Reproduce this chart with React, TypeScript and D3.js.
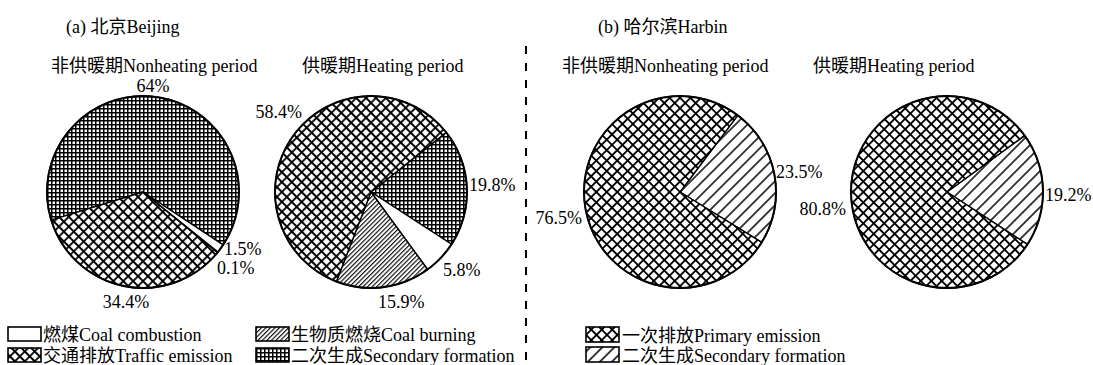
import React from "react";
import * as d3 from "d3";

// ---- data ----
// Beijing slices, clockwise: secondary, coal, biomass, traffic
const beijingKeys = ["secondary", "coal", "biomass", "traffic"];
const beijingNonheating = [64, 1.5, 0.1, 34.4];
const beijingHeating = [19.8, 5.8, 15.9, 58.4];
// Harbin slices, clockwise: secondary, primary
const harbinKeys = ["secondary2", "primary"];
const harbinNonheating = [23.5, 76.5];
const harbinHeating = [19.2, 80.8];

const beijingLegend = [
  { key: "coal", label: "燃煤Coal combustion" },
  { key: "biomass", label: "生物质燃烧Coal burning" },
  { key: "traffic", label: "交通排放Traffic emission" },
  { key: "secondary", label: "二次生成Secondary formation" },
];
const harbinLegend = [
  { key: "primary", label: "一次排放Primary emission" },
  { key: "secondary2", label: "二次生成Secondary formation" },
];

const panelTitles = ["(a) 北京Beijing", "(b) 哈尔滨Harbin"];
const periodTitles = ["非供暖期Nonheating period", "供暖期Heating period"];

// ---- layout ----
const W = 1093;
const H = 365;
const R = 96;
const CY = 192;
const FONT = "'Liberation Serif', 'Times New Roman', 'Noto Sans CJK SC', serif";

const fills: Record<string, string> = {
  coal: "#fff",
  biomass: "url(#pBiomass)",
  traffic: "url(#pCross)",
  secondary: "url(#pGrid)",
  primary: "url(#pCrossH)",
  secondary2: "url(#pDiag)",
};

type LabelPos = { dx: number; dy: number; anchor: string };

const pies = [
  {
    cx: 143,
    startDeg: -107,
    keys: beijingKeys,
    values: beijingNonheating,
    title: { x: 51, text: periodTitles[0] },
    labels: [
      { dx: 10, dy: -100, anchor: "middle" },
      { dx: 81, dy: 63, anchor: "start" },
      { dx: 74, dy: 82, anchor: "start" },
      { dx: -17, dy: 116, anchor: "middle" },
    ] as LabelPos[],
  },
  {
    cx: 371,
    startDeg: 51.6,
    keys: beijingKeys,
    values: beijingHeating,
    title: { x: 302, text: periodTitles[1] },
    labels: [
      { dx: 98, dy: -1, anchor: "start" },
      { dx: 72, dy: 84, anchor: "start" },
      { dx: 7, dy: 116, anchor: "start" },
      { dx: -69, dy: -74, anchor: "end" },
    ] as LabelPos[],
  },
  {
    cx: 680,
    startDeg: 37,
    keys: harbinKeys,
    values: harbinNonheating,
    title: { x: 562, text: periodTitles[0] },
    labels: [
      { dx: 96, dy: -14, anchor: "start" },
      { dx: -98, dy: 32, anchor: "end" },
    ] as LabelPos[],
  },
  {
    cx: 947,
    startDeg: 54,
    keys: harbinKeys,
    values: harbinHeating,
    title: { x: 813, text: periodTitles[1] },
    labels: [
      { dx: 98, dy: 9, anchor: "start" },
      { dx: -101, dy: 23, anchor: "end" },
    ] as LabelPos[],
  },
];

const rad = (d: number) => (d * Math.PI) / 180;

function Pie({ spec }: { spec: (typeof pies)[number] }) {
  const pieGen = d3
    .pie<number>()
    .sort(null)
    .value((d) => d)
    .startAngle(rad(spec.startDeg))
    .endAngle(rad(spec.startDeg + 360));
  const arcs = pieGen(spec.values);
  const arcGen = d3.arc<d3.PieArcDatum<number>>().innerRadius(0).outerRadius(R);
  return (
    <g>
      <text x={spec.title.x} y={72} fontSize={18}>
        {spec.title.text}
      </text>
      <g transform={`translate(${spec.cx},${CY})`}>
        {arcs.map((a, i) => (
          <path
            key={i}
            d={arcGen(a) || ""}
            fill={fills[spec.keys[i]]}
            stroke="#000"
            strokeWidth={1.4}
            strokeLinejoin="round"
          />
        ))}
        <circle r={R} fill="none" stroke="#000" strokeWidth={2} />
        {arcs.map((a, i) => (
          <text
            key={"l" + i}
            x={spec.labels[i].dx}
            y={spec.labels[i].dy}
            fontSize={18}
            textAnchor={spec.labels[i].anchor as any}
          >
            {`${a.data}%`}
          </text>
        ))}
      </g>
    </g>
  );
}

export default function App() {
  const boxW = 33;
  const boxH = 14;
  return (
    <svg
      width={W}
      height={H}
      viewBox={`0 0 ${W} ${H}`}
      style={{ position: "absolute", left: 0, top: 0, background: "#fff" }}
      fontFamily={FONT}
    >
      <defs>
        <pattern id="pGrid" width={4} height={4} patternUnits="userSpaceOnUse">
          <rect width={4} height={4} fill="#fff" />
          <path d="M0 0.75H4M0.75 0V4" stroke="#000" strokeWidth={1.5} />
        </pattern>
        <pattern
          id="pCross"
          width={7}
          height={7}
          patternUnits="userSpaceOnUse"
          patternTransform="rotate(45)"
        >
          <rect width={7} height={7} fill="#fff" />
          <path d="M0 0H7M0 7H7M0 0V7M7 0V7" stroke="#000" strokeWidth={1.8} />
        </pattern>
        <pattern
          id="pCrossH"
          width={7.4}
          height={7.4}
          patternUnits="userSpaceOnUse"
          patternTransform="rotate(45)"
        >
          <rect width={7.4} height={7.4} fill="#fff" />
          <path d="M0 0H7.4M0 7.4H7.4M0 0V7.4M7.4 0V7.4" stroke="#000" strokeWidth={1.8} />
        </pattern>
        <pattern
          id="pBiomass"
          width={3.2}
          height={3.2}
          patternUnits="userSpaceOnUse"
          patternTransform="rotate(45)"
        >
          <rect width={3.2} height={3.2} fill="#fff" />
          <path d="M0.6 0V3.2" stroke="#000" strokeWidth={1.1} />
        </pattern>
        <pattern
          id="pDiag"
          width={8.5}
          height={8.5}
          patternUnits="userSpaceOnUse"
          patternTransform="rotate(45)"
        >
          <rect width={8.5} height={8.5} fill="#fff" />
          <path d="M0 0V8.5M8.5 0V8.5" stroke="#000" strokeWidth={1.5} />
        </pattern>
      </defs>

      <text x={66} y={33} fontSize={18}>
        {panelTitles[0]}
      </text>
      <text x={598} y={33} fontSize={18}>
        {panelTitles[1]}
      </text>

      <line x1={526} x2={526} y1={46} y2={H} stroke="#000" strokeWidth={2} strokeDasharray="8 9" />

      {pies.map((p, i) => (
        <Pie key={i} spec={p} />
      ))}

      {/* Beijing legend: two columns, two rows */}
      {beijingLegend.map((d, i) => {
        const col = i % 2;
        const row = Math.floor(i / 2);
        const x = col === 0 ? 8 : 256;
        const y = 327 + row * 21;
        return (
          <g key={d.key}>
            <rect x={x} y={y} width={boxW} height={boxH} fill={fills[d.key]} stroke="#000" strokeWidth={1.6} />
            <text x={x + boxW + 2} y={y + 14} fontSize={18}>
              {d.label}
            </text>
          </g>
        );
      })}

      {/* Harbin legend */}
      {harbinLegend.map((d, i) => {
        const x = 586;
        const y = 327 + i * 20;
        return (
          <g key={d.key}>
            <rect x={x} y={y} width={boxW} height={boxH + 1} fill={fills[d.key]} stroke="#000" strokeWidth={1.6} />
            <text x={x + boxW + 3} y={y + 15} fontSize={18}>
              {d.label}
            </text>
          </g>
        );
      })}
    </svg>
  );
}
